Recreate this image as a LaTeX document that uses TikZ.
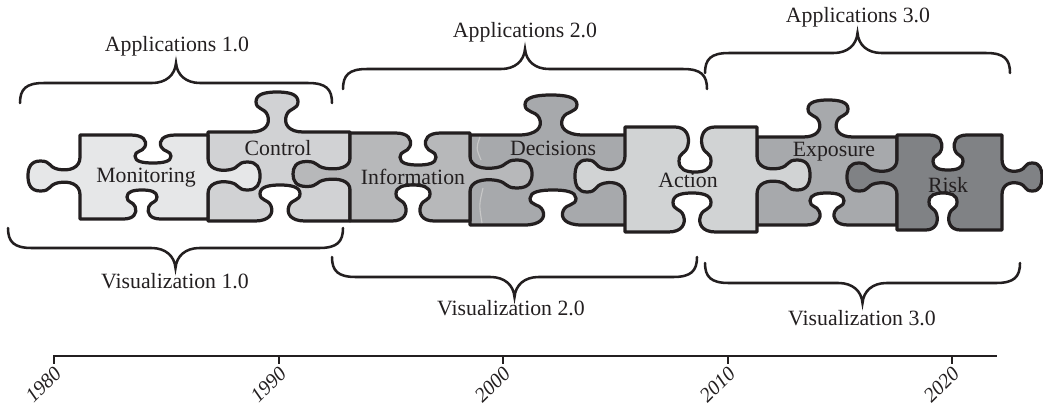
\documentclass[tikz,border=0pt]{standalone}
\usepackage{fontspec}
\setmainfont{Liberation Serif}
\usepackage{xcolor}

\definecolor{pzA}{HTML}{E6E7E8}
\definecolor{pzB}{HTML}{D1D2D4}
\definecolor{pzC}{HTML}{B7B8BA}
\definecolor{pzD}{HTML}{A7A9AC}
\definecolor{pzE}{HTML}{D1D3D4}
\definecolor{pzF}{HTML}{A7A9AC}
\definecolor{pzG}{HTML}{808285}
\definecolor{ink}{HTML}{231F20}

% knob on a horizontal edge: centre x, edge y, half width (<0 when the edge runs left), rise of the tip
\newcommand{\hknob}[4]{%
  -- ({#1-1.25*(#3)},{#2})
  .. controls ({#1-0.55*(#3)},{#2}) and ({#1-0.3*(#3)},{#2-0.2*(#4)}) .. ({#1-0.45*(#3)},{#2-0.42*(#4)})
  .. controls ({#1-0.6*(#3)},{#2-0.62*(#4)}) and ({#1-(#3)},{#2-0.55*(#4)}) .. ({#1-(#3)},{#2-0.76*(#4)})
  .. controls ({#1-(#3)},{#2-0.95*(#4)}) and ({#1-0.55*(#3)},{#2-(#4)}) .. ({#1},{#2-(#4)})
  .. controls ({#1+0.55*(#3)},{#2-(#4)}) and ({#1+(#3)},{#2-0.95*(#4)}) .. ({#1+(#3)},{#2-0.76*(#4)})
  .. controls ({#1+(#3)},{#2-0.55*(#4)}) and ({#1+0.6*(#3)},{#2-0.62*(#4)}) .. ({#1+0.45*(#3)},{#2-0.42*(#4)})
  .. controls ({#1+0.3*(#3)},{#2-0.2*(#4)}) and ({#1+0.55*(#3)},{#2}) .. ({#1+1.25*(#3)},{#2})}
% knob on a vertical edge: edge x, centre y, half width (<0 when the edge runs up), reach to the right
\newcommand{\vknob}[4]{%
  -- ({#1},{#2-1.25*(#3)})
  .. controls ({#1},{#2-0.55*(#3)}) and ({#1+0.2*(#4)},{#2-0.3*(#3)}) .. ({#1+0.42*(#4)},{#2-0.45*(#3)})
  .. controls ({#1+0.62*(#4)},{#2-0.6*(#3)}) and ({#1+0.55*(#4)},{#2-(#3)}) .. ({#1+0.76*(#4)},{#2-(#3)})
  .. controls ({#1+0.95*(#4)},{#2-(#3)}) and ({#1+(#4)},{#2-0.55*(#3)}) .. ({#1+(#4)},{#2})
  .. controls ({#1+(#4)},{#2+0.55*(#3)}) and ({#1+0.95*(#4)},{#2+(#3)}) .. ({#1+0.76*(#4)},{#2+(#3)})
  .. controls ({#1+0.55*(#4)},{#2+(#3)}) and ({#1+0.62*(#4)},{#2+0.6*(#3)}) .. ({#1+0.42*(#4)},{#2+0.45*(#3)})
  .. controls ({#1+0.2*(#4)},{#2+0.3*(#3)}) and ({#1},{#2+0.55*(#3)}) .. ({#1},{#2+1.25*(#3)})}
% curly bracket: left end x, right end x, end y, -1 for the tip up, 1 for the tip down
\newcommand{\curly}[4]{%
  ({#1},{#3}) .. controls ({#1},{#3+14*(#4)}) and ({#1+6},{#3+20*(#4)}) .. ({#1+24},{#3+20*(#4)})
  -- ({(#1+#2)/2-24},{#3+20*(#4)})
  .. controls ({(#1+#2)/2-10},{#3+20*(#4)}) and ({(#1+#2)/2-1},{#3+28*(#4)}) .. ({(#1+#2)/2},{#3+40*(#4)})
  .. controls ({(#1+#2)/2+1},{#3+28*(#4)}) and ({(#1+#2)/2+10},{#3+20*(#4)}) .. ({(#1+#2)/2+24},{#3+20*(#4)})
  -- ({#2-24},{#3+20*(#4)})
  .. controls ({#2-6},{#3+20*(#4)}) and ({#2},{#3+14*(#4)}) .. ({#2},{#3})}

\begin{document}
\begin{tikzpicture}[
  x=0.025cm, y=-0.025cm,
  font=\fontsize{15.5}{18}\selectfont,
  piece/.style={draw=ink, line width=2.3pt, line join=round},
  brc/.style={draw=ink, line width=1.8pt, line cap=round},
  lbl/.style={text=ink, inner sep=1pt},
  yr/.style={text=ink, font=\fontsize{14.5}{17}\selectfont\itshape, rotate=45, anchor=east, inner sep=1pt},
  ghost/.style={draw=black!22, line width=0.8pt}
]
\useasboundingbox (0,0) rectangle (1043,410);

% pieces that only take knobs go first
\draw[piece, fill=pzB] (208,132) \hknob{277}{132}{21}{40} -- (350,132) -- (350,221)
  \hknob{280}{221}{-20}{36} -- (208,221) -- cycle;
\draw[piece, fill=pzD] (470,135) \hknob{551}{135}{26}{40} -- (627,135) -- (627,225)
  \hknob{553}{225}{-23}{35} -- (470,225) -- cycle;
\draw[ghost] (480,137) .. controls (476,148) .. (481,160);
\draw[ghost] (483,188) .. controls (479,205) .. (482,223);
\draw[piece, fill=pzF] (757,137) \hknob{828}{137}{20}{37} -- (897,137) -- (897,225)
  \hknob{827}{225}{-17}{32} -- (757,225) -- cycle;

% pieces whose knobs lie on top of their neighbours
\draw[piece, fill=pzA] (80,135) \hknob{153}{135}{18}{-28} -- (208,135) \vknob{208}{176}{14}{52}
  -- (208,219) \hknob{142}{219}{-15}{29} -- (80,219) \vknob{80}{176}{-15}{-52} -- cycle;
\draw[piece, fill=pzC] (350,133) \hknob{418}{133}{18}{-32} -- (470,133) \vknob{470}{174}{14}{62}
  -- (470,221) \hknob{413}{221}{-17}{36} -- (350,221) \vknob{350}{174}{-12.5}{-57} -- cycle;
\draw[piece, fill=pzE] (625,127) \hknob{695}{127}{16}{-45} -- (757,127) \vknob{757}{175}{15}{53}
  -- (757,232) \hknob{692}{232}{-19}{39} -- (625,232) \vknob{625}{176}{-16}{-50} -- cycle;
\draw[piece, fill=pzG] (897,135) \hknob{948}{135}{15}{-35} -- (1002,135) \vknob{1002}{177}{14}{40}
  -- (1002,230) \hknob{943}{230}{-14}{37} -- (897,230) \vknob{897}{177}{-14}{-50} -- cycle;

\node[lbl] (mon) at (146,178) {Monitoring};
\node[lbl] (ctl) at (278,148) {Control};
\node[lbl] (inf) at (413,177) {Information};
\node[lbl] (dec) at (553,148) {Decisions};
\node[lbl] (act) at (688,180) {Action};
\node[lbl] (exp) at (834,152) {Exposure};
\node[lbl] (rsk) at (948,185) {Risk};

% application and visualization eras
\draw[brc] \curly{20}{332}{103}{-1};
\draw[brc] \curly{343}{707}{89}{-1};
\draw[brc] \curly{705}{1010}{73}{-1};
\draw[brc] \curly{8}{343}{228}{1};
\draw[brc] \curly{332}{697}{257}{1};
\draw[brc] \curly{705}{1020}{263}{1};
\node[lbl] (app1) at (177,46) {Applications 1.0};
\node[lbl] (app2) at (525,32) {Applications 2.0};
\node[lbl] (app3) at (858,17) {Applications 3.0};
\node[lbl] (vis1) at (175,281) {Visualization 1.0};
\node[lbl] (vis2) at (511,308) {Visualization 2.0};
\node[lbl] (vis3) at (862,318) {Visualization 3.0};

% time axis
\coordinate (ax0) at (53,356);
\coordinate (ax1) at (997,356);
\draw[ink, line width=1.5pt] (ax0) -- (ax1);
\foreach \yv/\xv in {1980/54, 1990/279, 2000/503, 2010/728, 2020/952} {
  \coordinate (t\yv) at (\xv,356);
  \draw[ink, line width=1pt] (t\yv) -- ++(0,8);
  \node[yr] (l\yv) at (\xv+5,369) {\yv};
}
\end{tikzpicture}
\end{document}
